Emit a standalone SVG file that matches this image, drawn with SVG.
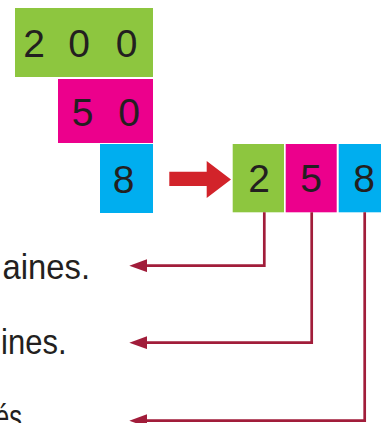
<svg xmlns="http://www.w3.org/2000/svg" width="381" height="423" viewBox="0 0 381 423">
  <style>
    .digit { font-family: "Liberation Sans", Arial, sans-serif; font-size: 39px; fill: #231F20; text-anchor: middle; }
    .label { font-family: "Liberation Sans", Arial, sans-serif; font-size: 35px; fill: #231F20; }
    .green { fill: #8DC63F; }
    .pink { fill: #EC008C; }
    .blue { fill: #00AEEF; }
    .conn { fill: none; stroke: #A11D3A; stroke-width: 2.7; }
  </style>
  <defs>
    <marker id="head" markerUnits="userSpaceOnUse" markerWidth="18" markerHeight="13" refX="7.3" refY="6.5" orient="auto">
      <path d="M0,0 L18,6.5 L0,13 Z" fill="#A11D3A"/>
    </marker>
  </defs>

  <g id="hundreds">
    <rect class="green" x="15" y="8" width="138" height="69"/>
    <text class="digit" x="34" y="57.3">2</text>
    <text class="digit" x="79" y="57.3">0</text>
    <text class="digit" x="126.5" y="57.3">0</text>
  </g>
  <g id="tens">
    <rect class="pink" x="58" y="79" width="95" height="64"/>
    <text class="digit" x="82.7" y="126">5</text>
    <text class="digit" x="129" y="126">0</text>
  </g>
  <g id="units">
    <rect class="blue" x="100" y="144" width="53" height="69"/>
    <text class="digit" x="123.7" y="193.3">8</text>
  </g>

  <g id="big-arrow">
    <polygon points="169.3,171.7 206.7,171.7 206.7,161 231,179.5 206.7,198 206.7,186 169.3,186" fill="#D2232A"/>
  </g>

  <g id="digit-2">
    <rect class="green" x="232.7" y="144" width="51.3" height="68.3"/>
    <text class="digit" x="259" y="191.7">2</text>
  </g>
  <g id="digit-5">
    <rect class="pink" x="285.7" y="144" width="51" height="68.3"/>
    <text class="digit" x="311" y="191.7">5</text>
  </g>
  <g id="digit-8">
    <rect class="blue" x="338.7" y="144" width="45" height="68.3"/>
    <text class="digit" x="364" y="191.7">8</text>
  </g>

  <g id="label-1"><text class="label" x="2.5" y="279.3" textLength="87.5" lengthAdjust="spacingAndGlyphs">aines.</text></g>
  <g id="label-2"><text class="label" x="1" y="354" textLength="65.5" lengthAdjust="spacingAndGlyphs">ines.</text></g>
  <g id="label-3"><text class="label" x="-5" y="429" textLength="27" lengthAdjust="spacingAndGlyphs">és</text></g>

  <g id="connectors">
    <path class="conn" d="M264.3,212.3 V265.7 H140" marker-end="url(#head)"/>
    <path class="conn" d="M311.7,212.3 V342.7 H140" marker-end="url(#head)"/>
    <path class="conn" d="M364.7,212.3 V420.7 H140" marker-end="url(#head)"/>
  </g>
</svg>
